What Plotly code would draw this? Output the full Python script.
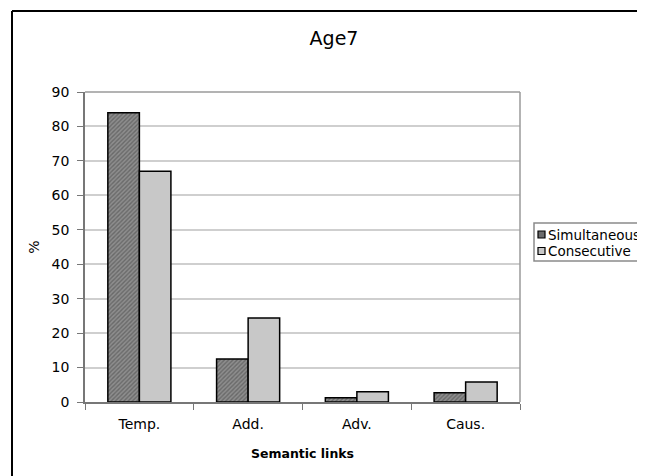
import plotly.graph_objects as go

categories = ["Temp.", "Add.", "Adv.", "Caus."]
simultaneous = [84, 12.5, 1.2, 2.7]
consecutive = [67, 24.4, 3.0, 5.8]
series_names = ["Simultaneous", "Consecutive"]
y_ticks = [0, 10, 20, 30, 40, 50, 60, 70, 80, 90]

FONT = "DejaVu Sans, Verdana, sans-serif"
SIM_FILL = "#808080"
CON_FILL = "#c8c8c8"

fig = go.Figure()
fig.add_trace(go.Bar(
    x=categories, y=simultaneous, name=series_names[0], showlegend=False,
    marker=dict(color=SIM_FILL,
                line=dict(color="black", width=1.5),
                pattern=dict(shape="/", fgcolor="#444444", bgcolor="#8e8e8e",
                             size=3, solidity=0.45)),
))
fig.add_trace(go.Bar(
    x=categories, y=consecutive, name=series_names[1], showlegend=False,
    marker=dict(color=CON_FILL, line=dict(color="black", width=1.5)),
))

# page body has an 8px margin: shift everything up/left by 8px
OFF = 8
W, H = 645 - OFF, 476 - OFF
ml, mt = 85 - OFF, 92 - OFF
pw, ph = 435, 310
mr = W - ml - pw
mb = H - mt - ph


def px(x):
    return (x - 85) / pw


def py(y):
    return (402 - y) / ph


shapes = [
    # plot area border (top/right, gray)
    dict(type="line", xref="paper", yref="paper", x0=1, x1=1, y0=0, y1=1,
         line=dict(color="#9a9a9a", width=1.5)),
    dict(type="line", xref="paper", yref="paper", x0=0, x1=1, y0=1, y1=1,
         line=dict(color="#9a9a9a", width=1.5)),
    # outer chart border
    dict(type="line", xref="paper", yref="paper", x0=px(12), x1=px(12), y0=py(11), y1=py(490),
         line=dict(color="black", width=2)),
    dict(type="line", xref="paper", yref="paper", x0=px(12), x1=px(660), y0=py(11), y1=py(11),
         line=dict(color="black", width=2)),
    # legend box
    dict(type="rect", xref="paper", yref="paper", x0=px(534), x1=px(680), y0=py(223), y1=py(261),
         line=dict(color="#8a8a8a", width=1.5), fillcolor="white", layer="above"),
]

annotations = []
leg_y = [234.5, 251]
leg_fill = ["#6a6a6a", CON_FILL]
for name, yc, fc in zip(series_names, leg_y, leg_fill):
    shapes.append(dict(type="rect", xref="paper", yref="paper",
                       x0=px(538), x1=px(545), y0=py(yc + 3.5), y1=py(yc - 3.5),
                       line=dict(color="black", width=1.2), fillcolor=fc, layer="above"))
    annotations.append(dict(text=name, xref="paper", yref="paper", x=px(546), y=py(yc),
                            xanchor="left", yanchor="middle", showarrow=False,
                            font=dict(size=13.5, family=FONT, color="black")))

fig.update_layout(
    width=W, height=H,
    margin=dict(l=ml, r=mr, t=mt, b=mb, autoexpand=False),
    paper_bgcolor="white", plot_bgcolor="white",
    font=dict(family=FONT, color="black", size=14),
    barmode="group", bargap=0.42, bargroupgap=0,
    title=dict(text="Age7", x=(334 - OFF) / W, xref="container", xanchor="center",
               y=1 - (38 - OFF) / H, yref="container", yanchor="middle",
               font=dict(size=19, family=FONT)),
    showlegend=False,
    xaxis=dict(
        title=dict(text="<b>Semantic links</b>", font=dict(size=12.5, family=FONT), standoff=19),
        showline=True, linecolor="#777777", linewidth=1.5,
        ticks="outside", ticklen=6, tickcolor="#777777", tickson="boundaries",
        tickfont=dict(size=14), showgrid=False, mirror=False, ticklabelstandoff=8,
    ),
    yaxis=dict(
        title=dict(text="%", font=dict(size=14, family=FONT, color="black"), standoff=9),
        range=[0, 90], tickvals=y_ticks,
        showline=True, linecolor="#777777", linewidth=1.5,
        ticks="outside", ticklen=6, tickcolor="#777777",
        showgrid=True, gridcolor="#cfcfcf", gridwidth=1.5,
        tickfont=dict(size=14), zeroline=False, ticklabelstandoff=5,
    ),
    shapes=shapes,
    annotations=annotations,
)

fig.write_html("out.html")
